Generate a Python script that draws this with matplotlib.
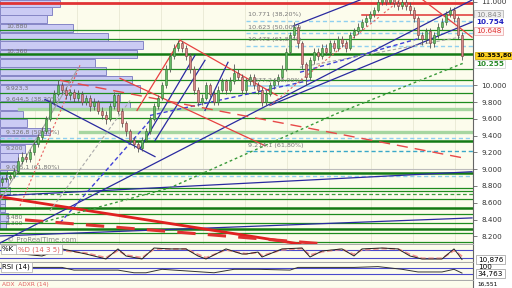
import numpy as np
import matplotlib.pyplot as plt

# daily candles (price in points)
closes = [8880, 8900, 8920, 8980, 9100, 9150, 9120, 9200, 9300, 9380,
          9450, 9600, 9800, 9900, 10000, 9950, 9880, 9920, 9850, 9900,
          9800, 9850, 9750, 9800, 9700, 9650, 9600, 9750, 9880, 9700,
          9550, 9450, 9350, 9300, 9250, 9350, 9450, 9600, 9750, 9850,
          10000, 10200, 10350, 10450, 10500, 10450, 10350, 10200, 9950, 9800,
          9850, 10000, 9900, 9800, 9950, 10050, 9950, 10050, 10150, 10100,
          9950, 10050, 10100, 10000, 9950, 9800, 9900, 10000, 10050, 10100,
          10200, 10400, 10600, 10700, 10500, 10250, 10100, 10300, 10400, 10350,
          10450, 10400, 10500, 10450, 10550, 10500, 10450, 10600, 10650, 10700,
          10750, 10800, 10850, 10900, 11000, 11050, 11000, 11050, 10980, 10950,
          11000, 10950, 10900, 10800, 10600, 10550, 10650, 10500, 10600, 10700,
          10750, 10850, 10900, 10800, 10600, 10354]
highs = [8920, 8950, 8960, 9020, 9140, 9200, 9190, 9240, 9340, 9420,
         9500, 9640, 9840, 9950, 10060, 10040, 9980, 9960, 9960, 9940,
         9930, 9890, 9880, 9850, 9830, 9740, 9690, 9790, 9920, 9900,
         9730, 9580, 9480, 9390, 9340, 9390, 9490, 9640, 9790, 9890,
         10040, 10240, 10390, 10490, 10540, 10530, 10480, 10380, 10230, 9980,
         9900, 10040, 10030, 9940, 9990, 10090, 10080, 10100, 10250, 10190,
         10130, 10090, 10140, 10130, 10040, 9980, 9940, 10040, 10090, 10140,
         10240, 10440, 10640, 10750, 10730, 10530, 10280, 10340, 10440, 10440,
         10490, 10490, 10540, 10540, 10590, 10590, 10540, 10640, 10690, 10740,
         10790, 10840, 10890, 10940, 11040, 11090, 11090, 11090, 11080, 11020,
         11040, 11030, 10990, 10930, 10830, 10640, 10690, 10680, 10640, 10740,
         10800, 10890, 10940, 10930, 10830, 10640]
lows = [8800, 8850, 8870, 8900, 8960, 9060, 9080, 9090, 9170, 9270,
        9350, 9420, 9580, 9770, 9870, 9900, 9840, 9830, 9800, 9810,
        9760, 9760, 9700, 9710, 9660, 9600, 9540, 9570, 9720, 9660,
        9500, 9400, 9300, 9250, 9200, 9220, 9320, 9420, 9570, 9720,
        9820, 9970, 10160, 10320, 10410, 10400, 10300, 10150, 9900, 9750,
        9760, 9820, 9860, 9760, 9770, 9920, 9900, 9920, 10020, 10060,
        9900, 9910, 10010, 9960, 9900, 9750, 9770, 9870, 9960, 10010,
        10070, 10170, 10370, 10560, 10450, 10200, 10000, 10060, 10260, 10300,
        10310, 10360, 10360, 10410, 10410, 10460, 10400, 10420, 10560, 10610,
        10660, 10710, 10760, 10810, 10870, 10960, 10960, 10970, 10940, 10900,
        10910, 10900, 10850, 10750, 10550, 10480, 10500, 10450, 10460, 10560,
        10660, 10720, 10810, 10750, 10550, 10300]
opens = [8850] + closes[:-1]

# volume by price (bin centre, relative volume)
vp_prices = [10976, 10886, 10790, 10689, 10581, 10479, 10377, 10270, 10168,
             10066, 9958, 9856, 9755, 9653, 9551, 9449, 9347, 9246, 9144,
             9042, 8940, 8838, 8737, 8635, 8533, 8431, 8330]
vp_volume = [60, 52, 47, 73, 108, 143, 137, 95, 106, 132, 140, 120, 130, 23,
             27, 50, 37, 25, 18, 18, 7, 8, 10, 5, 5, 8, 6]
vp_labels = [(10707, '10.880'), (10407, '10.360'), (9964, '9.923,3'),
             (9832, '9.644,5 (38,20%)'), (9437, '9.326,8 (50,00%)'),
             (9246, '9.200'), (9018, '9.005,1 (61,80%)'), (8419, '8.480'),
             (8347, '8.300')]

# horizontal levels
green_thin = [10659, 10551, 10192, 10060, 9904, 9796, 9605, 8778, 8742,
              8647, 8467, 8359, 8240, 8132]
green_thick = [10371, 9341, 8958, 8539, 8287]
green_dash = [8707]
green_light = [(9713, 0.04), (9449, 0.17)]
blue_dash_full = [9377, 8922]
fib_levels = [(10771, '10.771 (38,20%)'), (10623, '10.623 (50,00%)'),
              (10473, '10.473 (61,80%)')]
fib_low = (9214, '9.214,1 (61,80%)')
fib_mid = (9988, '9.877,2 (50,00%)')

# trend lines (candle index, price)
blue_lines = [((-0.5, 8120), (117.5, 11018)), ((67, 9761), (117.5, 10755)),
              ((72.75, 10707), (89.5, 11018)), ((10.75, 9832), (38.25, 9150)),
              ((-0.5, 8683), (117.5, 8970)), ((-0.5, 8204), (117.5, 8419)),
              ((34.5, 9246), (48.25, 10359)), ((38.25, 9341), (50.75, 10299)),
              ((50.75, 9701), (56.5, 10275))]
blue_dashed = [((14.5, 8359), (37, 9581)), ((37, 9641), (77, 10060)),
               ((74.5, 10156), (104.5, 10563))]
red_lines = [((33.75, 9701), (44.5, 10539)), ((44.5, 10539), (68.75, 9880)),
             ((29.5, 10084), (65.75, 9281)), ((105.25, 11018), (117.5, 10575))]
red_thick = ((-0.5, 8671), (74.5, 8108))
red_thick_dash = ((5.75, 8395), (80.75, 8108))
red_dash = ((14.5, 10060), (116.25, 9126))
red_dotted = [((4.5, 8563), (19.5, 10240)), ((67, 9761), (99.5, 11018))]
gray_dashed = [((12, 8503), (32, 9820)), ((74.5, 10216), (114.5, 10575))]
gray_solid = ((-0.5, 8623), (19, 10204))
green_trend_x = [9.5, 42, 83.75, 115.25]
green_trend_y = [8359, 8778, 9665, 10263]

# oscillators
stoch_x = [0, 5, 10, 15, 21, 26, 29, 31, 35, 38, 42, 46, 49, 51, 56, 60, 61,
           64, 65, 70, 75, 77, 80, 85, 88, 90, 95, 99, 102, 105, 110, 113,
           114, 115]
stoch_k = [76, 53, 38, 92, 53, 15, 92, 38, 15, 99, 92, 92, 38, 15, 92, 53, 53,
           68, 30, 92, 99, 30, 76, 92, 38, 92, 99, 92, 38, 15, 15, 92, 53, 11]
stoch_d = [80, 60, 45, 80, 60, 25, 80, 45, 25, 90, 92, 92, 50, 25, 85, 60, 55,
           65, 40, 85, 95, 45, 70, 90, 50, 85, 95, 92, 50, 20, 20, 80, 60, 35]
rsi_x = [0, 8, 15, 18, 25, 29, 33, 36, 40, 50, 53, 58, 64, 72, 74, 88, 94,
         100, 104, 110, 113, 115]
rsi_v = [70, 77, 77, 57, 57, 57, 37, 37, 63, 43, 37, 63, 63, 57, 77, 77, 83,
         63, 43, 43, 63, 34.8]

ticks = [8200, 8400, 8600, 8800, 9000, 9200, 9400, 9600, 9800, 10000, 11000]

BG = '#FCFCEC'
XL = (-0.5, 117.75)
W = 473 / 512

fig = plt.figure(figsize=(5.12, 2.88), dpi=100)
fig.patch.set_facecolor('white')
ax = fig.add_axes([0, 44 / 288, W, 244 / 288])
ax.set_facecolor(BG)
ax.set_xlim(*XL)
ax.set_ylim(8108, 11018)

for v in np.arange(8.25, 117, 10.5):
    ax.axvline(v, color='#E8E8D4', lw=0.6, zorder=0)

# volume profile (behind everything else)
vp_w = np.array(vp_volume) / 473
ax.barh(vp_prices, vp_w, height=94, left=0, transform=ax.get_yaxis_transform(),
        color='#CBCBF4', edgecolor='#8686C6', lw=0.7, zorder=1)
for y, t in vp_labels:
    ax.text(1, y, t, fontsize=4.4, color='#707070', va='center', zorder=1.5)

# horizontal levels
ax.axhline(9006, color='#BBBBBB', lw=0.8, zorder=2)
for y in green_thin:
    ax.axhline(y, color='#1E8C1E', lw=0.9, zorder=2)
for y in green_thick:
    ax.axhline(y, color='#137A13', lw=1.8, zorder=2)
for y in green_dash:
    ax.axhline(y, color='#3A9A3A', lw=0.9, ls=(0, (3, 2)), zorder=2)
for y, x0 in green_light:
    ax.axhline(y, xmin=x0, color='#A6D6A0', lw=2.4, zorder=1.8)
for y in blue_dash_full:
    ax.axhline(y, color='#8FD0F0', lw=1.0, ls=(0, (3, 2)), zorder=2)
for y, t in fib_levels:
    ax.axhline(y, xmin=0.52, color='#8FD0F0', lw=1.0, ls=(0, (3, 2)), zorder=2)
    ax.text(61.5, y + 40, t, fontsize=4.6, color='#777777', va='bottom', zorder=8)
ax.axhline(fib_low[0], xmin=0.52, color='#3AA8C8', lw=1.0, ls=(0, (3, 2)), zorder=2)
ax.text(61.5, fib_low[0] + 40, fib_low[1], fontsize=4.6, color='#777777', va='bottom', zorder=8)
ax.axhline(fib_mid[0], xmin=0.52, color='#9AD4F2', lw=1.2, zorder=2)
ax.text(61.5, fib_mid[0] + 40, fib_mid[1], fontsize=4.6, color='#777777', va='bottom', zorder=8)
ax.axhline(10982, color='#E03434', lw=2.0, zorder=2)
ax.axhline(10843, xmin=0.765, color='#E03434', lw=1.1, zorder=2)

# trend lines
def seg(p, **kw):
    ax.plot([p[0][0], p[1][0]], [p[0][1], p[1][1]], **kw)

for p in blue_lines:
    seg(p, color='#2A2AA0', lw=0.9, zorder=5)
for p in blue_dashed:
    seg(p, color='#4040D8', lw=1.0, ls=(0, (3, 2)), zorder=5)
for p in red_lines:
    seg(p, color='#E84040', lw=0.9, zorder=5)
seg(red_thick, color='#E02020', lw=2.0, zorder=5)
seg(red_thick_dash, color='#E03030', lw=2.2, ls=(0, (6, 4)), zorder=5)
seg(red_dash, color='#E84848', lw=1.0, ls=(0, (8, 5)), zorder=5)
for p in red_dotted:
    seg(p, color='#E86060', lw=0.8, ls=(0, (2, 2)), zorder=5)
for p in gray_dashed:
    seg(p, color='#AAAAAA', lw=0.8, ls=(0, (3, 2)), zorder=5)
seg(gray_solid, color='#A0A0A0', lw=0.8, zorder=5)
ax.plot(green_trend_x, green_trend_y, color='#3A9A3A', lw=1.0, ls=(0, (2, 2)), zorder=5)

# candles
x = np.arange(len(closes))
o, c = np.array(opens), np.array(closes)
h, l = np.array(highs), np.array(lows)
up = c >= o
ax.vlines(x, l, h, color='#555555', lw=0.6, zorder=6)
ax.bar(x[up], (c - o)[up], bottom=o[up], width=0.7, color='#66BB66',
       edgecolor='#2F6F2F', lw=0.4, zorder=7)
ax.bar(x[~up], (o - c)[~up], bottom=c[~up], width=0.7, color='#D88A8A',
       edgecolor='#7A3A3A', lw=0.4, zorder=7)

ax.text(1.2, 8150, '© ProRealTime.com', fontsize=5, color='#8A8A8A', va='center', zorder=9)

# right axis
ax.yaxis.tick_right()
ax.set_yticks(ticks)
ax.set_yticklabels([f'{t:,}'.replace(',', '.') for t in ticks])
ax.tick_params(axis='y', labelsize=5.2, labelcolor='#333333', color='#666666',
               length=3, width=0.6, pad=3)
ax.set_xticks([])
for s in ['left', 'top']:
    ax.spines[s].set_visible(False)
ax.spines['right'].set_color('#666666')
ax.spines['bottom'].set_color('#AAAAAA')

tb = ax.get_yaxis_transform()
tags = [(10843, '10.843', '#888888', 'normal', '#EEEEEE', '#AAAAAA', 5.2),
        (10754, '10.754', '#2020C0', 'bold', 'white', 'white', 5.2),
        (10648, '10.648', '#E03030', 'normal', '#FFF4F4', '#E8A0A0', 5.2),
        (10353.8, '10.353,80', 'black', 'bold', '#FFD21F', '#C8A000', 4.6),
        (10255, '10.255', '#2A8A2A', 'bold', 'white', '#CCCCCC', 5.2)]
for y, t, col, wt, fc, ec, fs in tags:
    ax.text(1.006, y, t, transform=tb, fontsize=fs, color=col, weight=wt,
            va='center', ha='left', clip_on=False,
            bbox=dict(boxstyle='square,pad=0.2', fc=fc, ec=ec, lw=0.5))

# stochastic panel
axs = fig.add_axes([0, 26 / 288, W, 17 / 288])
axs.set_facecolor(BG)
axs.set_xlim(*XL)
axs.set_ylim(-8, 122)
for y in (80, 20):
    axs.axhline(y, color='#4A4ACC', lw=0.8)
axs.plot(stoch_x, stoch_d, color='#F09090', lw=1.3, ls=(0, (3, 1.5)))
axs.plot(stoch_x, stoch_k, color='#222222', lw=0.7)
axs.text(0.005, 0.74, '%K ', transform=axs.transAxes, fontsize=5, va='center',
         bbox=dict(boxstyle='square,pad=0.25', fc='white', ec='#AAAAAA', lw=0.5))
axs.text(0.038, 0.74, '%D (14 3 5)', transform=axs.transAxes, fontsize=5,
         color='#E06060', va='center',
         bbox=dict(boxstyle='square,pad=0.25', fc='white', ec='#AAAAAA', lw=0.5))
axs.set_yticks([])
axs.set_xticks([])
axs.text(1.01, 11, '10,876', transform=axs.get_yaxis_transform(), fontsize=5.2,
         va='center', clip_on=False,
         bbox=dict(boxstyle='square,pad=0.2', fc='white', ec='#999999', lw=0.5))

# RSI panel
axr = fig.add_axes([0, 8 / 288, W, 17 / 288])
axr.set_facecolor(BG)
axr.set_xlim(*XL)
axr.set_ylim(-17, 110)
for y in (70, 30):
    axr.axhline(y, color='#4A4ACC', lw=0.8)
axr.plot(rsi_x, rsi_v, color='#333333', lw=0.7)
axr.text(0.005, 0.78, 'RSI (14)', transform=axr.transAxes, fontsize=5, va='center',
         bbox=dict(boxstyle='square,pad=0.25', fc='white', ec='#AAAAAA', lw=0.5))
axr.set_yticks([])
axr.set_xticks([])
axr.text(1.01, 82, '100', transform=axr.get_yaxis_transform(), fontsize=5.2,
         va='center', clip_on=False)
axr.text(1.01, 30, '34,763', transform=axr.get_yaxis_transform(), fontsize=5.2,
         va='center', clip_on=False,
         bbox=dict(boxstyle='square,pad=0.2', fc='white', ec='#999999', lw=0.5))

# ADX panel (only its top strip is visible)
axa = fig.add_axes([0, 0, W, 7 / 288])
axa.set_facecolor(BG)
axa.set_xticks([])
axa.set_yticks([])
axa.text(0.005, 0.5, 'ADX  ADXR (14)', transform=axa.transAxes, fontsize=4.2,
         color='#E06060', va='center')
axa.text(1.01, 0.5, '16,551', transform=axa.transAxes, fontsize=4.2,
         va='center', clip_on=False)

for a in (axs, axr, axa):
    for s in ['left', 'top']:
        a.spines[s].set_visible(False)
    a.spines['right'].set_color('#666666')
    a.spines['bottom'].set_color('#AAAAAA')

fig.savefig('out.png', dpi=100)
